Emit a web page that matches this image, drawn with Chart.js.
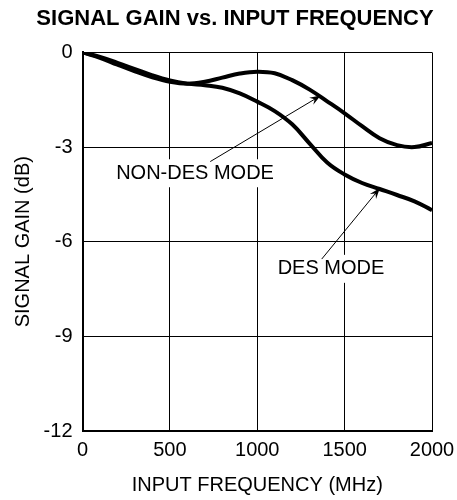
<!DOCTYPE html>
<html>
<head>
<meta charset="utf-8">
<script src="https://cdn.jsdelivr.net/npm/chart.js@4"></script>
<style>
  html, body { margin: 0; padding: 0; background: #fff; }
  #wrap { width: 457px; height: 500px; }
</style>
</head>
<body>
<div id="wrap"><canvas id="gainChart" width="457" height="500"></canvas></div>
<script>
// frequency axis (MHz)
const freqMHz = [0, 100, 200, 300, 400, 500, 600, 700, 800, 900, 1000,
                 1100, 1200, 1300, 1400, 1500, 1600, 1700, 1800, 1900, 2000];

// signal gain (dB)
const nonDesGain = [0, -0.17, -0.39, -0.60, -0.79, -0.93, -0.99, -0.93, -0.80, -0.67, -0.61,
                    -0.66, -0.88, -1.18, -1.55, -1.93, -2.34, -2.72, -2.94, -3.0, -2.87];
const desGain = [0, -0.14, -0.33, -0.53, -0.73, -0.89, -0.99, -1.04, -1.12, -1.30, -1.56,
                 -1.86, -2.28, -2.89, -3.49, -3.87, -4.14, -4.33, -4.52, -4.72, -5.0];

const xTicks = [0, 500, 1000, 1500, 2000];
const yTicks = [-12, -9, -6, -3, 0];

// callouts: label position and arrow (tail -> head) in data units
const callouts = [
  { text: 'NON-DES MODE', at: [644, -3.83], from: [731, -3.46], to: [1363, -1.37] },
  { text: 'DES MODE', at: [1422, -6.86], from: [1369, -6.55], to: [1702, -4.30] }
];

const FONT = '"Liberation Sans", Arial, sans-serif';

function toPoints(ys) {
  return freqMHz.map((f, i) => ({ x: f, y: ys[i] }));
}

const calloutPlugin = {
  id: 'callouts',
  afterDatasetsDraw(chart) {
    const { ctx, scales: { x, y } } = chart;
    ctx.save();
    ctx.font = '20px ' + FONT;
    ctx.textAlign = 'center';
    ctx.textBaseline = 'middle';
    callouts.forEach(c => {
      const tx = x.getPixelForValue(c.at[0]);
      const ty = y.getPixelForValue(c.at[1]);
      const w = ctx.measureText(c.text).width;
      ctx.fillStyle = '#fff';
      ctx.fillRect(tx - w / 2 - 4, ty - 14, w + 8, 28);
      ctx.fillStyle = '#000';
      ctx.fillText(c.text, tx, ty);

      const x0 = x.getPixelForValue(c.from[0]), y0 = y.getPixelForValue(c.from[1]);
      const x1 = x.getPixelForValue(c.to[0]), y1 = y.getPixelForValue(c.to[1]);
      const ang = Math.atan2(y1 - y0, x1 - x0);
      const cos = Math.cos(ang), sin = Math.sin(ang);
      ctx.strokeStyle = '#000';
      ctx.lineWidth = 1;
      ctx.beginPath();
      ctx.moveTo(x0, y0);
      ctx.lineTo(x1 - 6 * cos, y1 - 6 * sin);
      ctx.stroke();
      // arrow head
      ctx.beginPath();
      ctx.moveTo(x1, y1);
      ctx.lineTo(x1 - 11 * cos + 4 * sin, y1 - 11 * sin - 4 * cos);
      ctx.lineTo(x1 - 7 * cos, y1 - 7 * sin);
      ctx.lineTo(x1 - 11 * cos - 4 * sin, y1 - 11 * sin + 4 * cos);
      ctx.closePath();
      ctx.fillStyle = '#000';
      ctx.fill();
    });
    ctx.restore();
  }
};

const ctx = document.getElementById('gainChart').getContext('2d');

const gainChart = new Chart(ctx, {
  type: 'line',
  data: {
    datasets: [
      {
        label: 'NON-DES MODE',
        data: toPoints(nonDesGain),
        borderColor: '#000',
        borderWidth: 4,
        pointRadius: 0,
        tension: 0.4,
        fill: false
      },
      {
        label: 'DES MODE',
        data: toPoints(desGain),
        borderColor: '#000',
        borderWidth: 4,
        pointRadius: 0,
        tension: 0.4,
        fill: false
      }
    ]
  },
  options: {
    responsive: false,
    animation: false,
    events: [],
    layout: { padding: { left: 13, right: 0, top: 0, bottom: 0 } },
    plugins: {
      legend: { display: false },
      tooltip: { enabled: false },
      title: {
        display: true,
        text: 'SIGNAL GAIN vs. INPUT FREQUENCY',
        color: '#000',
        font: { family: FONT, size: 22, weight: 'bold', lineHeight: 1.2 },
        padding: { top: 6, bottom: 20 }
      }
    },
    scales: {
      x: {
        type: 'linear',
        min: 0,
        max: 2000,
        afterBuildTicks: s => { s.ticks = xTicks.map(v => ({ value: v })); },
        afterFit: s => { s.height = 69; s.paddingRight = 25; },
        ticks: {
          color: '#000',
          padding: 7,
          maxRotation: 0,
          font: { family: FONT, size: 20 },
          callback: v => String(v)
        },
        grid: { color: '#000', lineWidth: 1, drawTicks: false },
        border: { color: '#000', width: 2 },
        title: {
          display: true,
          text: 'INPUT FREQUENCY (MHz)',
          color: '#000',
          font: { family: FONT, size: 20, lineHeight: 1.2 },
          padding: { top: 0, bottom: 3 }
        }
      },
      y: {
        type: 'linear',
        min: -12,
        max: 0,
        afterBuildTicks: s => { s.ticks = yTicks.map(v => ({ value: v })); },
        afterFit: s => { s.width = 69.5; },
        ticks: {
          color: '#000',
          padding: 10,
          font: { family: FONT, size: 20 },
          callback: v => String(v)
        },
        grid: { color: '#000', lineWidth: 1, drawTicks: false },
        border: { color: '#000', width: 2 },
        title: {
          display: true,
          text: 'SIGNAL GAIN (dB)',
          color: '#000',
          font: { family: FONT, size: 20, lineHeight: 1.0 },
          padding: { top: 0, bottom: 0 }
        }
      }
    }
  },
  plugins: [calloutPlugin]
});
</script>
</body>
</html>
